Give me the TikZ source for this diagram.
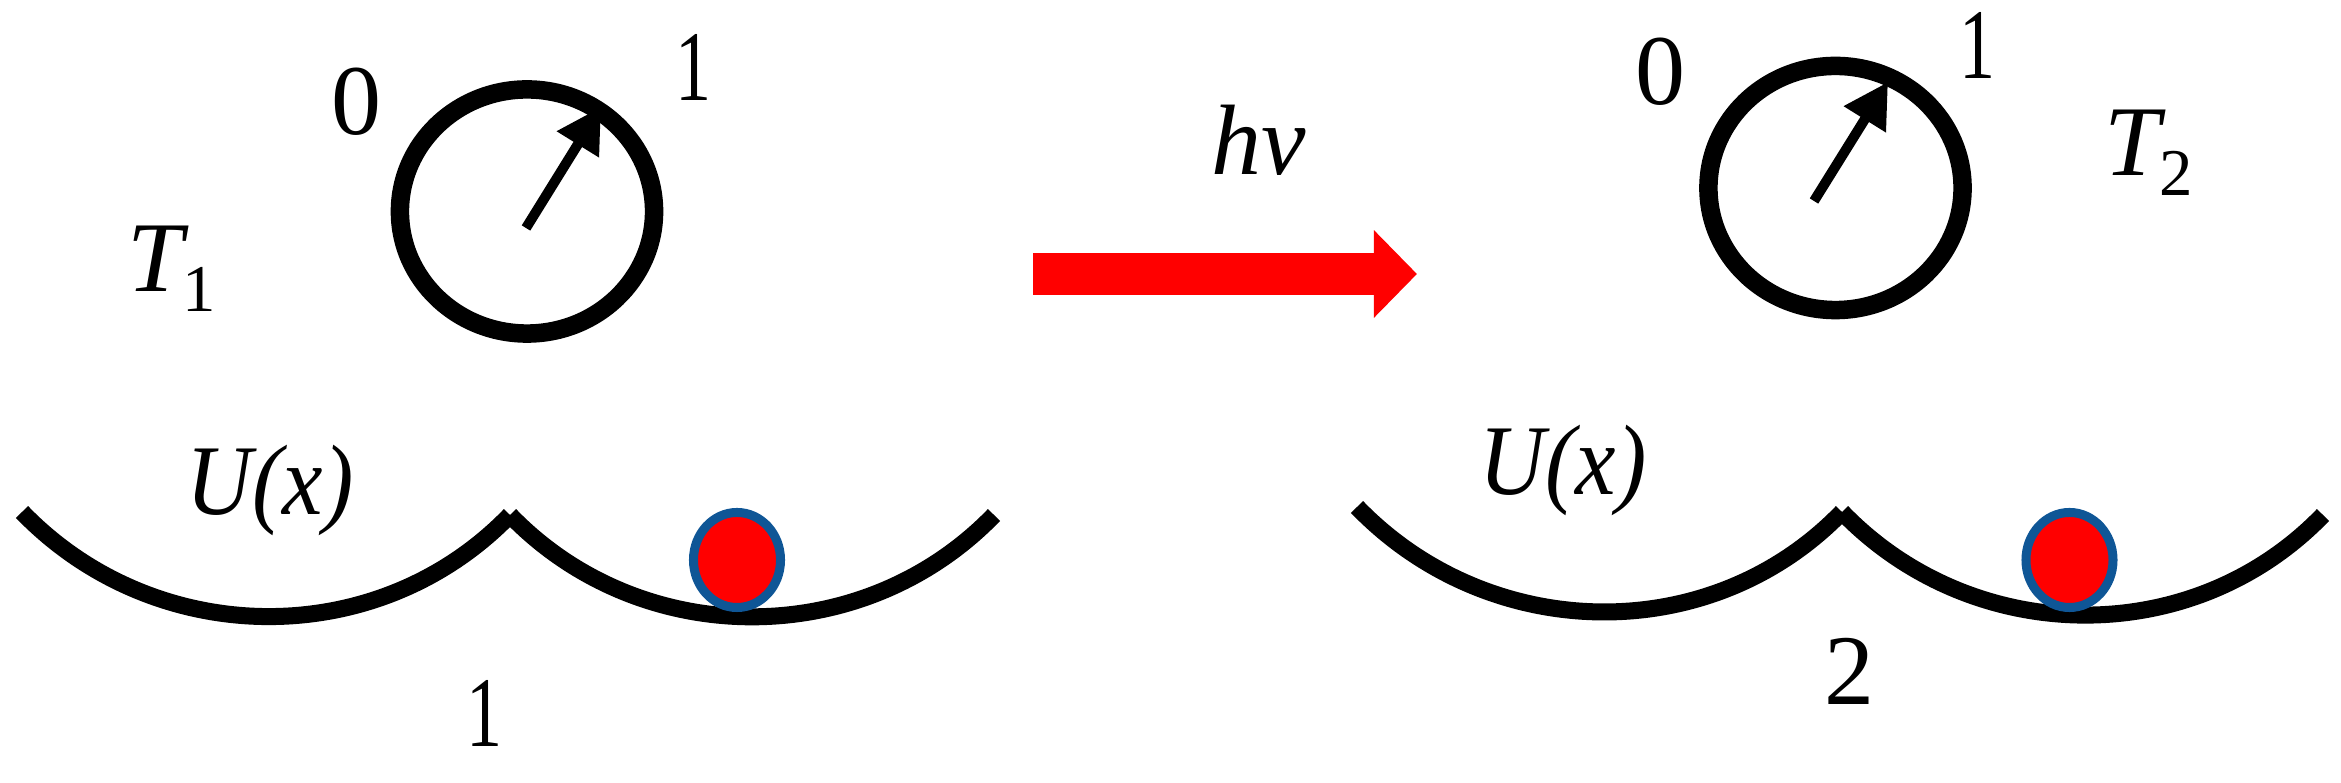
\documentclass[tikz,border=0pt]{standalone}
\usepackage{fontspec}
\setmainfont{Liberation Serif}
\usetikzlibrary{arrows.meta,shapes.geometric}
\definecolor{ballblue}{HTML}{0F5696}
\newcommand{\subfig}[1]{\raisebox{-0.2cm}{\fontsize{19}{19}\selectfont #1}}
\newcommand{\thinone}{\scalebox{0.72}[1]{1}}
\tikzset{
	lbl/.style={inner sep=0pt, anchor=base, font=\fontsize{28.45}{30}\selectfont},
	dial/.style={draw, ellipse, inner sep=0pt, line width=0.185cm, minimum width=2.54cm, minimum height=2.44cm},
	needle/.style={line width=0.1cm, -{Triangle[length=0.44cm,width=0.47cm]}},
	well/.style={line width=0.17cm},
	ball/.style={draw=ballblue, fill=red, ellipse, inner sep=0pt, line width=0.09cm, minimum width=0.87cm, minimum height=0.95cm},
	pump/.style={red, line width=0.42cm, -{Triangle[length=0.43cm,width=0.85cm]}}
}
\begin{document}
\begin{tikzpicture}[x=0.01cm,y=-0.01cm]
	\useasboundingbox (0,0) rectangle (2341,783);
	% % Dials
	\node[dial] (dialL) at (527,211.5) {};
	\node[dial] (dialR) at (1835.5,188) {};
	\coordinate (hubL) at (526,228);
	\coordinate (tipL) at (601,107);
	\coordinate (hubR) at (1814,201);
	\coordinate (tipR) at (1888,82);
	\draw[needle] (hubL) -- (tipL);
	\draw[needle] (hubR) -- (tipR);
	% % Wells
	\foreach \name/\xa/\ya/\xb/\yb/\xc/\yc in {
		L/22/512/510/515/994/515,
		R/1357/507/1842/512/2323/515
	}{
		\coordinate (start\name) at (\xa,\ya);
		\coordinate (cusp\name) at (\xb,\yb);
		\coordinate (stop\name) at (\xc,\yc);
		\draw[well] (start\name) to[out=-46,in=-134] (cusp\name);
		\draw[well] (cusp\name) to[out=-46,in=-134] (stop\name);
	}
	\node[ball] (ballL) at (737,560) {};
	\node[ball] (ballR) at (2069.5,560) {};
	% % Pump arrow
	\coordinate (pumpA) at (1033,274);
	\coordinate (pumpB) at (1417,274);
	\draw[pump] (pumpA) -- (pumpB);
	% % Labels
	\foreach \nm/\x/\y/\label in {
		zeroL/357/135/0,
		oneL/694/101/\thinone,
		bottomL/485/747/\thinone,
		zeroR/1660/105/0,
		oneR/1977/79/\thinone,
		bottomR/1849/705/2
	}{
		\node[lbl] (\nm) at (\x,\y) {\label};
	}
	\node[lbl, anchor=base west] (tempL) at (127,292) {\textit{T}\hspace{-0.07cm}\subfig{1}};
	\node[lbl, anchor=base west] (tempR) at (2104,176) {\textit{T}\hspace{-0.07cm}\subfig{2}};
	\node[lbl, anchor=base west] (potL) at (186,515) {\scalebox{0.91}[1]{\textit{U(x)}}};
	\node[lbl, anchor=base west] (potR) at (1479,495) {\scalebox{0.91}[1]{\textit{U(x)}}};
	\node[lbl, anchor=base west] (photon) at (1211,175) {\textit{hν}};
\end{tikzpicture}
\end{document}
